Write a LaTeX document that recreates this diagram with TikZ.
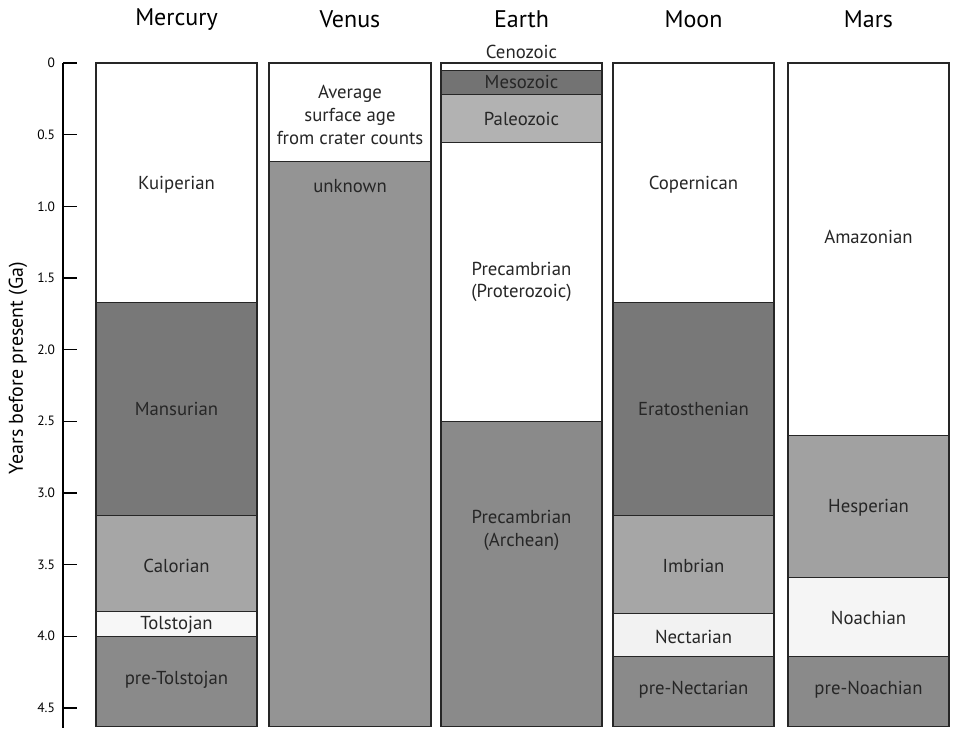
\documentclass[tikz,border=0pt]{standalone}
\usepackage{fontspec}
\setmainfont{PT Sans}
\usetikzlibrary{positioning}

\begin{document}
\begin{tikzpicture}[
    x=0.03cm, y=-4.299cm,
    era/.style={draw=black!85, line width=0.9pt},
    lbl/.style={font=\fontsize{16}{19.5}\selectfont, text=black!85, align=center},
    ttl/.style={font=\fontsize{20.5}{24}\selectfont},
    axlbl/.style={font=\fontsize{11.5}{13}\selectfont, anchor=east},
    axline/.style={draw=black, line width=1.1pt}
]
    \useasboundingbox (0,-0.4396) rectangle (953,4.6406);

    % time scale
    \draw [axline] (63,0) -- (63,4.6406);
    \foreach \t in {0,0.5,1.0,1.5,2.0,2.5,3.0,3.5,4.0,4.5}
        \draw [axline] (63,\t) -- (77,\t);
    \foreach \t in {0,0.5,1.0,1.5,2.0,2.5,3.0,3.5,4.0,4.5}
        \node [axlbl] (tk\t) at (59,\t) {\t};
    \node [rotate=90, font=\fontsize{17}{20}\selectfont] (yax) at (18,2.128) {Years before present (Ga)};

    % era bands: left/right/top/bottom/fill
    \foreach \l/\r/\a/\b/\c in {
        96/257/0/1.67/white, 96/257/1.67/3.16/black!53, 96/257/3.16/3.83/black!35,
        96/257/3.83/4.0/black!3, 96/257/4.0/4.627/black!46,
        269/431/0/0.69/white, 269/431/0.69/4.627/black!42,
        441/602/0/0.05/white, 441/602/0.05/0.22/black!55, 441/602/0.22/0.555/black!30,
        441/602/0.555/2.5/white, 441/602/2.5/4.627/black!46,
        613/774/0/1.67/white, 613/774/1.67/3.16/black!53, 613/774/3.16/3.84/black!35,
        613/774/3.84/4.14/black!5, 613/774/4.14/4.627/black!46,
        788/949/0/2.6/white, 788/949/2.6/3.59/black!37, 788/949/3.59/4.14/black!4,
        788/949/4.14/4.627/black!46}
        \filldraw [era, fill=\c] (\l,\a) rectangle (\r,\b);

    % column titles
    \node [ttl] (mercury) at (176.5,-0.305) {Mercury};
    \node [ttl] (venus) at (350,-0.305) {Venus};
    \node [ttl] (earth) at (521.5,-0.305) {Earth};
    \node [ttl] (moon) at (693.5,-0.305) {Moon};
    \node [ttl] (mars) at (868.5,-0.305) {Mars};

    % Mercury
    \node [lbl] (kuip) at (176.5,0.851) {Kuiperian};
    \node [lbl] (mans) at (176.5,2.414) {Mansurian};
    \node [lbl] (calo) at (176.5,3.51) {Calorian};
    \node [lbl] (tols) at (176.5,3.922) {Tolstojan};
    \node [lbl] (ptols) at (176.5,4.306) {pre-Tolstojan};

    % Venus
    \node [lbl] (avg) at (350,0.363) {Average\\surface age\\from crater counts};
    \node [lbl] (unkn) at (350,0.858) {unknown};

    % Earth
    \node [lbl] (ceno) at (521.5,-0.075) {Cenozoic};
    \node [lbl] (meso) at (521.5,0.133) {Mesozoic};
    \node [lbl] (paleo) at (521.5,0.391) {Paleozoic};
    \node [lbl] (prot) at (521.5,1.528) {Precambrian\\(Proterozoic)};
    \node [lbl] (arch) at (521.5,3.259) {Precambrian\\(Archean)};

    % Moon
    \node [lbl] (cope) at (693.5,0.851) {Copernican};
    \node [lbl] (erat) at (693.5,2.414) {Eratosthenian};
    \node [lbl] (imbr) at (693.5,3.51) {Imbrian};
    \node [lbl] (nect) at (693.5,4.006) {Nectarian};
    \node [lbl] (pnect) at (693.5,4.375) {pre-Nectarian};

    % Mars
    \node [lbl] (amaz) at (868.5,1.214) {Amazonian};
    \node [lbl] (hesp) at (868.5,3.105) {Hesperian};
    \node [lbl] (noac) at (868.5,3.873) {Noachian};
    \node [lbl] (pnoac) at (868.5,4.375) {pre-Noachian};
\end{tikzpicture}
\end{document}
